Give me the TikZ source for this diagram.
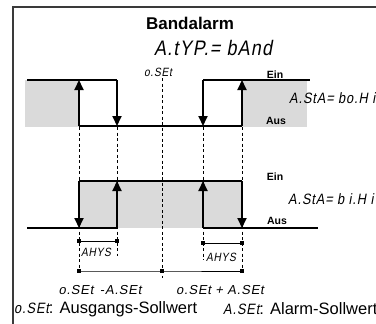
\documentclass[tikz,border=0pt]{standalone}
\usepackage{fontspec}
\setmainfont{Liberation Sans}
\newfontfamily\segfont[FakeSlant=0.18,LetterSpace=6]{Liberation Sans}
\newfontfamily\segnarrow[FakeSlant=0.18,FakeStretch=0.85,LetterSpace=6]{Liberation Sans}
\usetikzlibrary{arrows.meta}
\definecolor{bandgray}{HTML}{DADADA}
\definecolor{framegray}{HTML}{3A3A3A}
\begin{document}
\begin{tikzpicture}[x=1pt,y=-1pt,
  frame/.style={line width=1.3pt,draw=framegray},
  hline/.style={line width=1.1pt},
  sw/.style={line width=2pt,-{Triangle[width=9pt,length=10pt]}},
  guide/.style={line width=0.7pt,dash pattern=on 3pt off 2.5pt},
  dim/.style={line width=0.8pt},
  tick/.style={fill=black,minimum size=4pt,inner sep=0pt,draw=none,rectangle},
  lbl/.style={font=\fontsize{10.5}{12}\selectfont\bfseries,inner sep=0pt},
  segs/.style={font=\fontsize{12}{14}\segnarrow,inner sep=0pt},
  segm/.style={font=\fontsize{13}{15}\segfont,inner sep=0pt},
  segr/.style={font=\fontsize{15}{17}\segnarrow,inner sep=0pt},
  segl/.style={font=\fontsize{21}{23}\segnarrow,inner sep=0pt},
  legend/.style={font=\fontsize{16.5}{19}\selectfont,inner sep=0pt,anchor=west},
]
\useasboundingbox (0,0) rectangle (376,324);
\clip (0,0) rectangle (376,324);
\fill[white] (0,0) rectangle (376,324);

% frame
\coordinate (fbl) at (13,330);
\coordinate (ftl) at (13,7);
\coordinate (ftr) at (380,7);
\draw[frame] (fbl) -- (ftl) -- (ftr);

% gray bands
\fill[bandgray] (25,80) rectangle (79,127);
\fill[bandgray] (242,80) rectangle (307,127);
\fill[bandgray] (79,181) rectangle (242,228);

% guides
\coordinate (gc0) at (162,78);  \coordinate (gc1) at (162,278);
\coordinate (ga0) at (79,127);  \coordinate (ga1) at (79,271);
\coordinate (gb0) at (117,127); \coordinate (gb1) at (117,256);
\coordinate (gd0) at (203,127); \coordinate (gd1) at (203,260);
\coordinate (ge0) at (242,127); \coordinate (ge1) at (242,271);
\draw[guide] (gc0) -- (gc1);
\draw[guide] (ga0) -- (ga1);
\draw[guide] (gb0) -- (gb1);
\draw[guide] (gd0) -- (gd1);
\draw[guide] (ge0) -- (ge1);

% upper diagram
\coordinate (ul0) at (27,80);   \coordinate (ur0) at (310,80);
\coordinate (uat) at (79,80);   \coordinate (uab) at (79,126);
\coordinate (ubt) at (117,80);  \coordinate (ubb) at (117,126);
\coordinate (udt) at (203,80);  \coordinate (udb) at (203,126);
\coordinate (uet) at (242,80);  \coordinate (ueb) at (242,126);
\draw[hline] (ul0) -- (ubt);
\draw[hline] (uab) -- (ueb);
\draw[hline] (udt) -- (ur0);
\draw[sw] (uab) -- (uat);
\draw[sw] (ubt) -- (ubb);
\draw[sw] (udt) -- (udb);
\draw[sw] (ueb) -- (uet);

% lower diagram
\coordinate (ll0) at (27,228);  \coordinate (lr0) at (318,228);
\coordinate (lat) at (79,181);  \coordinate (lab) at (79,228);
\coordinate (lbt) at (117,181); \coordinate (lbb) at (117,228);
\coordinate (ldt) at (203,181); \coordinate (ldb) at (203,228);
\coordinate (let) at (242,181); \coordinate (leb) at (242,228);
\draw[hline] (lat) -- (let);
\draw[hline] (ll0) -- (lbb);
\draw[hline] (ldb) -- (lr0);
\draw[sw] (lat) -- (lab);
\draw[sw] (lbb) -- (lbt);
\draw[sw] (ldb) -- (ldt);
\draw[sw] (let) -- (leb);

% dimension lines
\node[tick] (h1a) at (79,241) {};
\node[tick] (h1b) at (117,241) {};
\node[tick] (h2a) at (203,243) {};
\node[tick] (h2b) at (242,243) {};
\node[tick] (s1) at (79,271) {};
\node[tick] (s2) at (162,271) {};
\node[tick] (s3) at (242,271) {};
\draw[dim] (h1a.center) -- (h1b.center);
\draw[dim] (h2a.center) -- (h2b.center);
\draw[dim] (s1.center) -- (s2.center) -- (s3.center);

% texts
\node[font=\fontsize{17}{19}\selectfont\bfseries,inner sep=0pt] (title) at (190,23) {Bandalarm};
\node[segl] (atyp) at (213,48) {A.tYP.= bAnd};
\node[segs] (oset) at (158,72) {o.SEt};
\node[lbl] (ein1) at (275,75) {Ein};
\node[lbl] (aus1) at (276,121) {Aus};
\node[segr,anchor=west] (asta1) at (289,98) {A.StA= bo.H i};
\node[lbl] (ein2) at (275,177) {Ein};
\node[lbl] (aus2) at (277,221) {Aus};
\node[segr,anchor=west] (asta2) at (288,199) {A.StA= b i.H i};
\node[segs] (ahys1) at (96,252) {AHYS};
\node[segs] (ahys2) at (221,257) {AHYS};
\node[segm] (lminus) at (100,290) {o.SEt\enspace -A.SEt};
\node[segm] (lplus) at (220,290) {o.SEt + A.SEt};
\node[legend] (leg1) at (14,309) {{\fontsize{15}{17}\segnarrow o.SEt}: Ausgangs-Sollwert};
\node[legend] (leg2) at (223,309) {{\fontsize{15}{17}\segnarrow A.SEt}: Alarm-Sollwert};
\end{tikzpicture}
\end{document}
